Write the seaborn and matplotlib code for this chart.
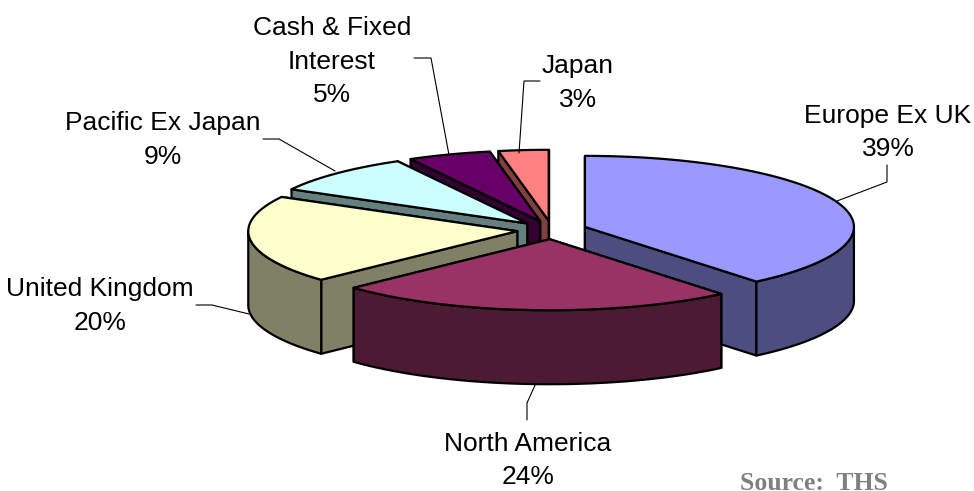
"""
Asset allocation shown as an exploded 3D pie (drawn by hand, seaborn has no pie).
"""

import numpy as np
import matplotlib
matplotlib.use("Agg")
import matplotlib.pyplot as plt
import seaborn as sns

# chart data, clockwise from 12 o'clock
categories = ["Europe Ex UK", "North America", "United Kingdom",
              "Pacific Ex Japan", "Cash & Fixed\nInterest", "Japan"]
shares = [39, 24, 20, 9, 5, 3]
top_colors = ["#9999FF", "#993366", "#FFFFCC", "#CCFFFF", "#660066", "#FF8080"]

# label layout in pixels: text centre x, first line y
label_pos = [(888, 116), (528, 444), (100, 289), (163, 123), (332, 28), (578, 66)]
leaders = [
    [(887, 165), (887, 182), (837, 201)],
    [(527, 420), (527, 403), (536, 383)],
    [(196, 305), (212, 305), (249, 314)],
    [(263, 139), (279, 139), (335, 171)],
    [(414, 58), (431, 58), (449, 155)],
    [(540, 81), (524, 81), (519, 153)],
]

CX, CY = 552, 230
RX, RY = 269, 71
DEPTH = 74
EXPLODE = 35
LINE_H = 33.5

sns.set_theme(style="white")
plt.rcParams["font.family"] = ["Liberation Sans", "DejaVu Sans"]
palette = sns.color_palette(top_colors)

fig, ax = plt.subplots(figsize=(9.74, 4.91), dpi=100)
ax.set_position([0, 0, 1, 1])
ax.set_xlim(0, 974)
ax.set_ylim(491, 0)
ax.axis("off")

vals = np.array(shares, dtype=float)
edges = np.concatenate([[0], np.cumsum(vals) / vals.sum() * 360])


def rim_point(cx, cy, deg):
    t = np.radians(deg)
    return cx + RX * np.sin(t), cy - RY * np.cos(t)


slices = []
for i in range(len(vals)):
    mid = np.radians((edges[i] + edges[i + 1]) / 2)
    cx = CX + EXPLODE * np.sin(mid)
    cy = CY - EXPLODE * RY / RX * np.cos(mid)
    slices.append((cy, cx, i))

# back slices first so the front ones cover them
for cy, cx, i in sorted(slices):
    a0, a1 = edges[i], edges[i + 1]
    top = palette[i]
    wall = tuple(c * 0.5 for c in top)
    style = dict(facecolor=wall, edgecolor="black", linewidth=1.6, joinstyle="round")

    # radial side walls, the one further back goes first
    for deg in sorted([a0, a1], key=lambda d: rim_point(cx, cy, d)[1]):
        x, y = rim_point(cx, cy, deg)
        ax.fill([cx, x, x, cx], [cy, y, y + DEPTH, cy + DEPTH], **style)

    # outer wall, only the part facing the viewer
    lo, hi = max(a0, 90), min(a1, 270)
    if hi > lo:
        ts = np.linspace(lo, hi, 80)
        xs, ys = rim_point(cx, cy, ts)
        ax.fill(np.r_[xs, xs[::-1]], np.r_[ys, ys[::-1] + DEPTH], **style)

    ts = np.linspace(a0, a1, 120)
    xs, ys = rim_point(cx, cy, ts)
    ax.fill(np.r_[cx, xs], np.r_[cy, ys], facecolor=top, edgecolor="black",
            linewidth=1.6, joinstyle="round")

for name, share, (tx, ty), leader in zip(categories, shares, label_pos, leaders):
    lines = name.split("\n") + [f"{share}%"]
    for k, line in enumerate(lines):
        ax.text(tx, ty + k * LINE_H, line, ha="center", va="center",
                fontsize=19, color="black")
    lx, ly = zip(*leader)
    ax.plot(lx, ly, color="black", linewidth=0.8)

ax.text(740, 490, "Source:  THS", ha="left", va="baseline", fontsize=18.5,
        fontweight="bold", color="#808080", family=["Liberation Serif"])

plt.savefig("out.png", dpi=100, facecolor="white")
plt.close()
